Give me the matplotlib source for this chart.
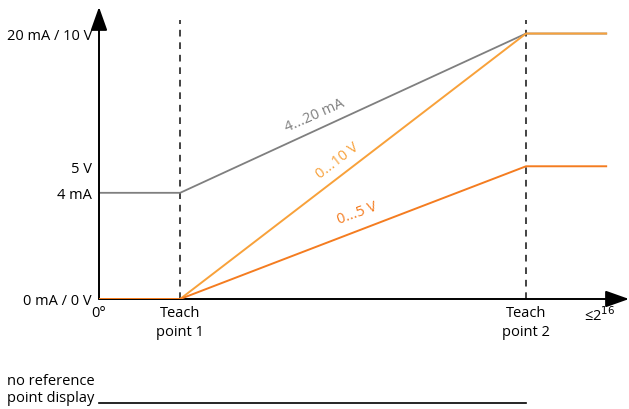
import matplotlib
matplotlib.use("Agg")
import matplotlib.pyplot as plt

plt.rcParams["font.family"] = ["Open Sans", "DejaVu Sans"]

# diagram units: x 0..100 = 0° .. end of range, y 0..100 = 0 .. 20 mA / 10 V
X_POINTS = [0, 16, 84.2, 100]          # start, teach point 1, teach point 2, end
CURRENT_4_20 = [40, 40, 100, 100]     # 4...20 mA
VOLT_0_10 = [0, 0, 100, 100]          # 0...10 V
VOLT_0_5 = [0, 0, 50, 50]             # 0...5 V

Y_TICKS = [0, 40, 50, 100]
Y_LABELS = ["0 mA / 0 V", "4 mA", "5 V", "20 mA / 10 V"]
X_TICKS = [0, 16, 84.2]
X_LABELS = ["0°", "Teach\npoint 1", "Teach\npoint 2"]
X_MAX_LABEL = "≤2$^{16}$"

GREY = "#7f7f7f"
ORANGE_LIGHT = "#f8a13a"
ORANGE = "#f47c20"

W, H = 629, 410
fig = plt.figure(figsize=(W / 100, H / 100), dpi=100)
ax = fig.add_axes([99 / W, (H - 300) / H, 530 / W, 292 / H])
ax.set_xlim(0, 104.5)
ax.set_ylim(0, 110)
for s in ax.spines.values():
    s.set_visible(False)

# axes with arrow heads
arrow = dict(arrowstyle="-|>,head_length=0.9,head_width=0.32", color="black",
             lw=1.4, shrinkA=0, shrinkB=0, mutation_scale=16)
ax.annotate("", xy=(1, 0), xytext=(0, 0), xycoords="axes fraction",
            arrowprops=arrow, annotation_clip=False)
ax.annotate("", xy=(0, 1), xytext=(0, 0), xycoords="axes fraction",
            arrowprops=arrow, annotation_clip=False)

# teach point markers
for xv in X_POINTS[1:3]:
    ax.plot([xv, xv], [0, 105], color="#222222", lw=1.2, ls=(0, (4, 3.5)), zorder=1)

ax.plot(X_POINTS, CURRENT_4_20, color=GREY, lw=1.3, zorder=2)
ax.plot(X_POINTS, VOLT_0_10, color=ORANGE_LIGHT, lw=1.4, zorder=3)
ax.plot(X_POINTS, VOLT_0_5, color=ORANGE, lw=1.4, zorder=3)

ax.text(42.5, 69.5, "4...20 mA", color=GREY, fontsize=10.5, rotation=24,
        ha="center", va="center", rotation_mode="anchor")
ax.text(47, 52.5, "0...10 V", color=ORANGE_LIGHT, fontsize=10.5, rotation=37.5,
        ha="center", va="center", rotation_mode="anchor")
ax.text(51, 32.5, "0...5 V", color=ORANGE, fontsize=10.5, rotation=20,
        ha="center", va="center", rotation_mode="anchor")

ax.set_yticks(Y_TICKS)
ax.set_yticklabels(Y_LABELS, fontsize=10.5)
ax.set_xticks(X_TICKS)
ax.set_xticklabels(X_LABELS, fontsize=10.5, linespacing=1.4)
ax.tick_params(length=0, pad=5)
ax.tick_params(axis="x", pad=4)
ax.text(98.8, -2.2, X_MAX_LABEL, fontsize=10.5, ha="center", va="top")

# no reference point display row
ax.plot([0, X_POINTS[2]], [-39.2, -39.2], color="black", lw=1.2, clip_on=False)
fig.text(7 / W, 1 - 390 / H, "no reference\npoint display", fontsize=10.5,
         ha="left", va="center", linespacing=1.25)

fig.savefig("out.png", dpi=100)
